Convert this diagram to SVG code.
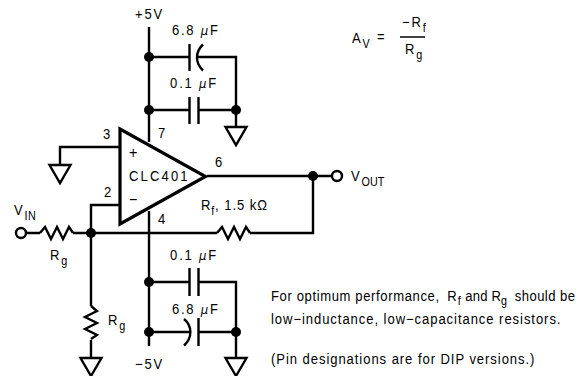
<svg xmlns="http://www.w3.org/2000/svg" width="577" height="376" viewBox="0 0 577 376">
<style>
.w{fill:none;stroke:#000;stroke-width:2.4;stroke-linejoin:miter}
.d{fill:#000}
text{font-family:"Liberation Sans",Arial,sans-serif;font-size:14.5px;fill:#000;letter-spacing:2px}
.s{font-size:12px;letter-spacing:.6px}
.g{font-family:"DejaVu Sans",sans-serif;font-style:italic;font-size:13px}
.n{letter-spacing:1.05px}
</style>
<defs>
<path id="gnd" d="M-10.500 0H10.500L0 18Z" class="w"/>
<path id="res" d="M0 0L5 -6L11 6L17 -6L23 6L29 -6L33 0" class="w"/>
</defs>
<g id="connectors">
<path class="w" d="M149 27V142M149 57H189M197 57H236V127M149 110H189M198 110H236"/>
<path class="w" d="M120 147H60V165M120 205H91V233"/>
<path class="w" d="M207 176H332M313 176V233H250M217 233H73M40 233H26M91 233V306M91 340V358"/>
<path class="w" d="M149 211V346M149 282H189M198 282H236V358M149 332H191M198 332H236"/>
</g>
<g id="opamp"><path d="M120 129V224L205.500 176.500Z" fill="#fff" stroke="#000" stroke-width="3.200"/></g>
<g id="cap-6-8-top"><path class="w" d="M189.500 44V71"/><path class="w" d="M203 44.500C195 52 195 63 203 70.500"/></g>
<g id="cap-0-1-top"><path class="w" d="M189.500 97V124M198.500 97V124"/></g>
<g id="cap-0-1-bottom"><path class="w" d="M189.500 268V296M198.500 268V296"/></g>
<g id="cap-6-8-bottom"><path class="w" d="M184 319C192.500 326 192.500 338 184 345.500M198.500 318V346"/></g>
<g id="rin"><use href="#res" x="40" y="233"/></g>
<g id="rf"><use href="#res" x="217" y="233"/></g>
<g id="rg"><use href="#res" transform="translate(91,306) rotate(90)"/></g>
<g id="gnd1"><use href="#gnd" x="236" y="127"/></g>
<g id="gnd2"><use href="#gnd" x="60" y="165"/></g>
<g id="gnd3"><use href="#gnd" x="91" y="358"/></g>
<g id="gnd4"><use href="#gnd" x="236" y="358"/></g>
<g id="junctions">
<circle class="d" cx="149" cy="57" r="5"/><circle class="d" cx="149" cy="110" r="5"/><circle class="d" cx="236" cy="110" r="5"/>
<circle class="d" cx="313" cy="176" r="5"/><circle class="d" cx="91" cy="233" r="5"/>
<circle class="d" cx="149" cy="282" r="5"/><circle class="d" cx="149" cy="332" r="5"/><circle class="d" cx="236" cy="332" r="5"/>
</g>
<g id="terminals"><circle cx="21" cy="233" r="5" fill="#fff" stroke="#000" stroke-width="2.400"/><circle cx="337" cy="176" r="5" fill="#fff" stroke="#000" stroke-width="2.400"/></g>
<path d="M400 37H425" fill="none" stroke="#000" stroke-width="1.500"/>
<g id="labels" transform="scale(.9,1)">
<text x="143.300" y="158" style="font-size:16px">+</text><text x="143.300" y="181" style="letter-spacing:2.400px">CLC401</text><text x="143.300" y="205" style="font-size:16px">−</text>
<text x="150" y="19">+5V</text>
<text x="191" y="35">6.8 <tspan class="g">μ</tspan>F</text>
<text x="189" y="88">0.1 <tspan class="g">μ</tspan>F</text>
<text x="189" y="260">0.1 <tspan class="g">μ</tspan>F</text>
<text x="191" y="314">6.8 <tspan class="g">μ</tspan>F</text>
<text x="150" y="369">−5V</text>
<text x="114.400" y="139">3</text><text x="115.600" y="197">2</text><text x="175.600" y="138">7</text><text x="175.600" y="224">4</text><text x="239" y="167">6</text>
<text x="15.600" y="215">V<tspan class="s" dy="5">IN</tspan></text>
<text x="55.600" y="260">R<tspan class="s" dy="5">g</tspan></text>
<text x="120" y="325">R<tspan class="s" dy="5">g</tspan></text>
<text x="223.300" y="210" style="letter-spacing:1.100px">R<tspan class="s" dy="5">f</tspan><tspan dy="-5">, 1.5 k</tspan>Ω</text>
<text x="390" y="181">V<tspan class="s" dy="5" style="letter-spacing:.1px">OUT</tspan></text>
<text x="391" y="43">A<tspan class="s" dy="5">V</tspan></text><text x="419" y="42">=</text>
<text x="446.700" y="27">−R<tspan class="s" dy="5">f</tspan></text>
<text x="450" y="54">R<tspan class="s" dy="5">g</tspan></text>
<text x="301.100" y="301" class="n" style="letter-spacing:.7px">For optimum performance,</text>
<text x="497" y="301" class="n">R<tspan class="s" dy="4">f</tspan></text>
<text x="517" y="301" style="letter-spacing:.3px">and</text>
<text x="546" y="301" style="letter-spacing:.3px">R<tspan class="s" dy="4">g</tspan></text>
<text x="572" y="301" style="letter-spacing:.5px">should be</text>
<text x="301.100" y="324" class="n">low−inductance, low−capacitance resistors.</text>
<text x="301.100" y="364" class="n">(Pin designations are for DIP versions.)</text>
</g>
</svg>
